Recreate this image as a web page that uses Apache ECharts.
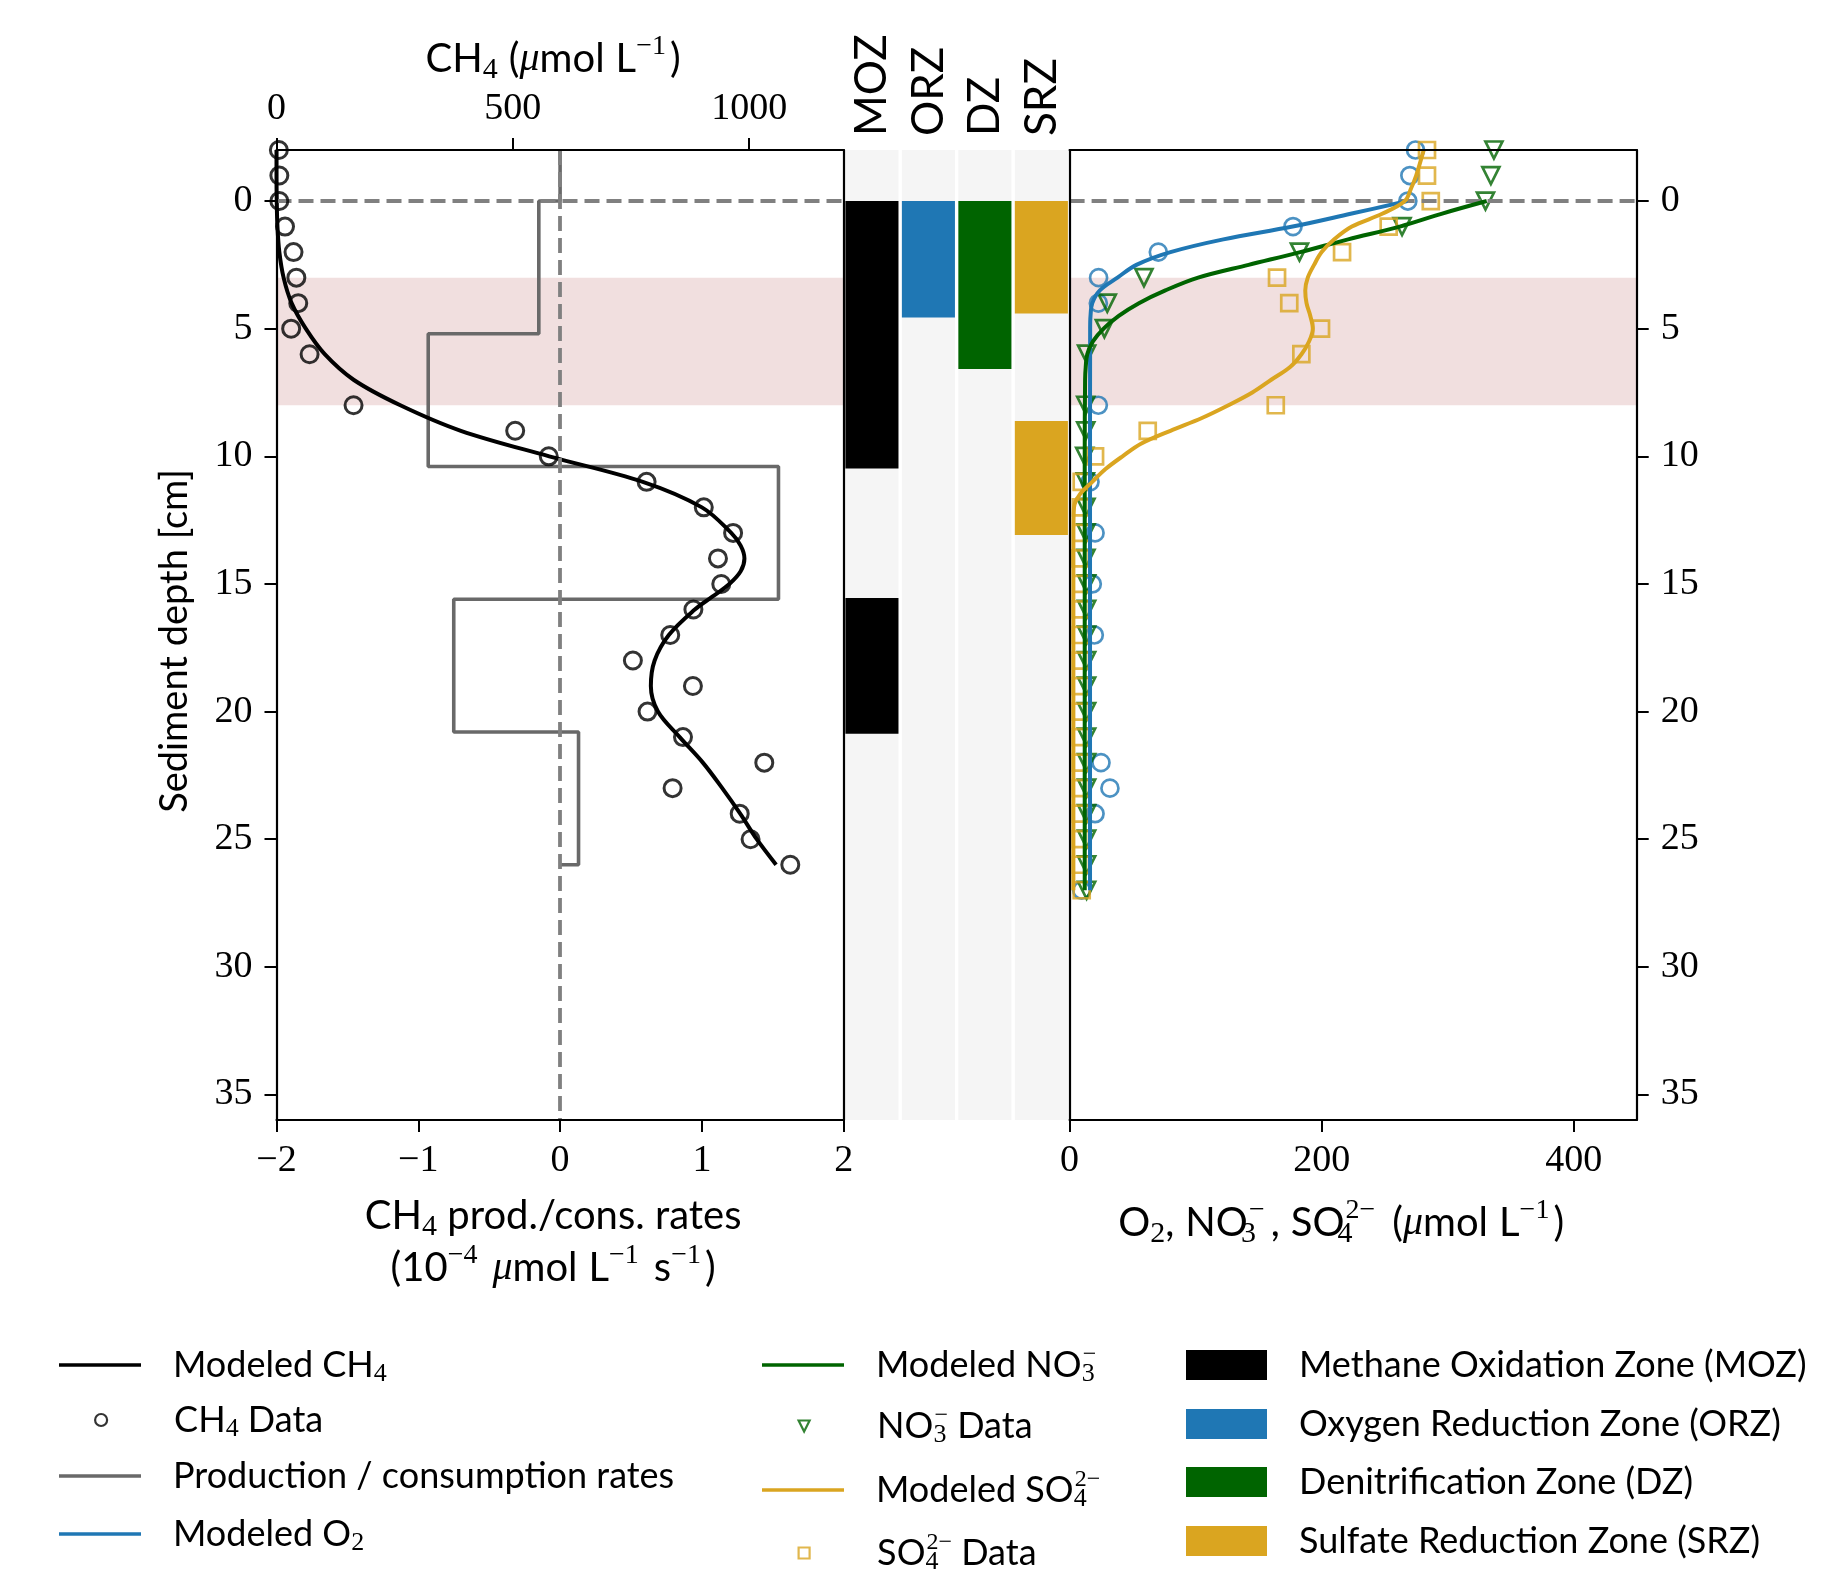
<!DOCTYPE html>
<html>
<head>
<meta charset="utf-8">
<script src="https://cdn.jsdelivr.net/npm/echarts@6/dist/echarts.min.js"></script>
<style>html,body{margin:0;padding:0;background:#fff}#c{width:1845px;height:1576px}</style>
</head>
<body>
<div id="c"></div>
<script>
// ---------------- DATA ----------------
// CH4 measured data (depth cm, umol/L)
const ch4DataDepth = [-2,-1,0,1,2,3,4,5,6,8,9,10,11,12,13,14,15,16,17,18,19,20,21,22,23,24,25,26];
const ch4DataValue = [5,6,6,18,36,42,46,31,70,163,505,576,783,904,966,934,941,882,833,754,881,785,860,1032,838,980,1003,1087];
// CH4 modeled profile
const ch4ModelDepth = [-2,-1,0,1,2,3,4,5,6,7,8,9,10,11,12,13,13.5,14,14.5,15,15.5,16,17,18,19,20,21,22,23,24,25,26];
const ch4ModelValue = [0,0,0.5,2,6,15,32,62,102,163,262,390,577,775,900,962,982,990,982,958,922,885,830,800,792,807,853,902,943,981,1016,1057];
// CH4 production / consumption rates (step profile)
const rateTopDepth = -2;
const rateDepthEdges = [0, 5.2, 10.4, 15.6, 20.8, 26];
const rateValues = [-0.15, -0.93, 1.54, -0.75, 0.13];
// Zones (depth intervals)
const zoneNames = ['MOZ', 'ORZ', 'DZ', 'SRZ'];
const mozIntervals = [[0, 10.48], [15.55, 20.87]];
const orzIntervals = [[0, 4.56]];
const dzIntervals = [[0, 6.58]];
const srzIntervals = [[0, 4.41], [8.62, 13.08]];
// Highlighted band
const bandDepth = [3, 8];
// O2 data / model
const o2DataDepth = [-2,-1,0,1,2,3,4,8,11,13,15,17,22,23,24,27];
const o2DataValue = [274.5,270,268.4,177.3,70.4,23,22.8,22.8,16.2,20.2,18,19.6,24.9,32,20.2,9.6];
const o2ModelDepth = [0,0.5,1,1.5,2,2.5,3,3.5,4,4.5,5,10,15,20,27];
const o2ModelValue = [268,223,177,122,80,53,38,24,18,16.6,16.3,16.2,16.2,16.2,16.2];
// NO3 data / model
const no3DataDepth = [-2,-1,0,1,2,3,4,5,6,8,9,10,11,12,13,14,15,16,17,18,19,20,21,22,23,24,25,26,27];
const no3DataValue = [336.7,334.3,330,263.8,182.4,59,29.9,27.6,13.5,12.8,12.8,12,12.5,13,13,13,13.5,13.5,13.5,13.5,13.5,13.5,13.5,13.5,13.5,13.5,13.5,13.5,13.5];
const no3ModelDepth = [0,0.5,1,1.5,2,2.5,3,3.5,4,4.5,5,5.5,6,6.5,7,10,15,20,27];
const no3ModelValue = [331,295,262,221,183,142,102,76,55,39,27,18.5,14,12.8,12.3,12,12,12,12];
// SO4 data / model
const so4DataDepth = [-2,-1,0,1,2,3,4,5,6,8,9,10,11,12,13,14,15,16,17,18,19,20,21,22,23,24,25,26,27];
const so4DataValue = [283.6,283.6,286.6,253.2,216.2,164.6,174.3,199.5,183.9,163.6,62,20.2,9.6,9,9.4,8.8,9.4,9,9,9,9,9,9,9,9,9,9,9,9.6];
const so4ModelDepth = [-2,-1,-0.5,0,0.5,1,1.5,2,2.5,3,3.5,4,4.5,5,5.5,6,6.5,7,7.5,8,8.5,9,9.5,10,10.5,11,11.5,12,13,15,20,27];
const so4ModelValue = [281,275,271,266,248,224,210,200,194,189,187,188,191,193,190,184,175,160,145,126,105,80,57,42,28.5,18,8,3.5,3,3,3,3];
// Tick values
const depthTicks = [0,5,10,15,20,25,30,35];
const rateTicks = [-2,-1,0,1,2];
const ch4Ticks = [0,500,1000];
const concTicks = [0,200,400];

// ---------------- STYLE ----------------
const SANS = 'Lato, "DejaVu Sans", sans-serif';
const SERIF = '"Liberation Serif", "DejaVu Serif", serif';
const C_O2 = '#1f77b4', C_NO3 = '#006400', C_SO4 = '#daa520', C_STEP = '#696969', C_DASH = '#808080';

function richSet(fs, lh, scr, supPad) {
  const sfs = Math.round(fs * scr), pfs = Math.round(fs * (scr - 0.04));
  return {
    n: {fontFamily: SANS, fontSize: fs, lineHeight: lh, color: '#000'},
    s: {fontFamily: SANS, fontSize: fs, lineHeight: lh, width: Math.round(fs * 0.28), color: '#000'},
    mu: {fontFamily: SERIF, fontStyle: 'italic', fontSize: fs, lineHeight: lh, color: '#000'},
    sub: {fontFamily: SERIF, fontSize: sfs, lineHeight: sfs, verticalAlign: 'bottom', color: '#000'},
    subz: {fontFamily: SERIF, fontSize: sfs, lineHeight: sfs, verticalAlign: 'bottom', width: 1, color: '#000'},
    sup: {fontFamily: SERIF, fontSize: pfs, lineHeight: pfs, verticalAlign: 'top', padding: [0, supPad, 0, 0], color: '#000'},
    supw: {fontFamily: SERIF, fontSize: pfs, lineHeight: pfs, verticalAlign: 'top', padding: [0, 6, 0, 0], color: '#000'},
    sp: {width: 27, lineHeight: lh}
  };
}
const richAxis = richSet(40, 52, 0.74, 4);
const richLegend = richSet(36, 44, 0.72, 0);

const zeroPairs = (vals, deps) => vals.map((v, i) => [v, deps[i]]);
const minusFmt = v => (v < 0 ? '\u2212' + (-v) : String(v));
const plainFmt = v => String(v);

// step profile points built from the rate arrays
const ratePts = [[0, rateTopDepth], [0, rateDepthEdges[0]]];
rateValues.forEach((v, i) => { ratePts.push([v, rateDepthEdges[i]]); ratePts.push([v, rateDepthEdges[i + 1]]); });
ratePts.push([0, rateDepthEdges[rateDepthEdges.length - 1]]);

const axisLineS = {show: true, onZero: false, lineStyle: {color: '#000', width: 2.2}};
const tickS = vals => ({show: true, length: 12, customValues: vals, lineStyle: {color: '#000', width: 2}});
const labS = (vals, extra) => Object.assign({show: true, customValues: vals, fontFamily: SERIF, fontSize: 38, color: '#000', margin: 20, formatter: plainFmt}, extra || {});
const noSplit = {show: false};

function zoneRender(params, api) {
  const cat = api.value(0);
  const p0 = api.coord([cat, api.value(1)]);
  const p1 = api.coord([cat, api.value(2)]);
  const bw = api.size([1, 0])[0];
  const w = bw - 3.4;
  return {type: 'rect', shape: {x: p0[0] - w / 2, y: p0[1], width: w, height: p1[1] - p0[1]}, style: {fill: api.visual('color')}};
}
const zoneSeries = (name, cat, intervals, color) => ({
  type: 'custom', name, xAxisIndex: 2, yAxisIndex: 2, z: 3,
  itemStyle: {color}, renderItem: zoneRender, encode: {x: 0, y: [1, 2]},
  data: intervals.map(iv => [cat, iv[0], iv[1]])
});

const PATH_CIRCLE = 'path://M0,5A5,5 0 1,1 10,5A5,5 0 1,1 0,5Z';
const PATH_TRI = 'path://M0,0L10,0L5,10Z';
const PATH_SQ = 'path://M0,0L10,0L10,10L0,10Z';

const legendLabels = {
  'Modeled CH4': '{sp| }{n|Modeled CH}{sub|4}',
  'CH4 Data': '{sp| }{n|CH}{sub|4}{n| Data}',
  'Production / consumption rates': '{sp| }{n|Production / consumption rates}',
  'Modeled O2': '{sp| }{n|Modeled O}{sub|2}',
  'O2 Data': '{sp| }{n|O}{sub|2}{n| Data}',
  'Modeled NO3': '{sp| }{n|Modeled NO}{subz|3}{sup|\u2212}',
  'NO3 Data': '{sp| }{n|NO}{subz|3}{sup|\u2212}{n| Data}',
  'Modeled SO4': '{sp| }{n|Modeled SO}{subz|4}{sup|2\u2212}',
  'SO4 Data': '{sp| }{n|SO}{subz|4}{sup|2\u2212}{n| Data}',
  'Methane Oxidation Zone (MOZ)': '{sp| }{n|Methane Oxidation Zone (MOZ)}',
  'Oxygen Reduction Zone (ORZ)': '{sp| }{n|Oxygen Reduction Zone (ORZ)}',
  'Denitrification Zone (DZ)': '{sp| }{n|Denitrification Zone (DZ)}',
  'Sulfate Reduction Zone (SRZ)': '{sp| }{n|Sulfate Reduction Zone (SRZ)}'
};
function mkLegend(name, left, centerY, icon, iw, ih, itemStyle) {
  // square-aspect path icons only occupy ih x ih in the middle of the item box
  const shift = icon.indexOf('path://') === 0 ? (iw - ih) / 2 : 0;
  return {
    show: true, selectedMode: false, orient: 'horizontal', left: left + shift, top: centerY - 22, padding: 0,
    itemWidth: iw, itemHeight: ih, itemGap: 0, symbolKeepAspect: true,
    data: [{name, icon, itemStyle}],
    formatter: () => legendLabels[name],
    textStyle: {color: '#000', rich: richLegend}
  };
}
const lineIcon = c => ({color: c, borderWidth: 0});
const markIcon = c => ({color: 'rgba(0,0,0,0)', borderColor: c, borderWidth: 2.2});

const legends = [
  mkLegend('Modeled CH4', 59, 1369, 'rect', 82, 3.5, lineIcon('#000')),
  mkLegend('CH4 Data', 59, 1424, PATH_CIRCLE, 82, 12, markIcon('#000')),
  mkLegend('Production / consumption rates', 59, 1480, 'rect', 82, 3.5, lineIcon(C_STEP)),
  mkLegend('Modeled O2', 59, 1538, 'rect', 82, 3.5, lineIcon(C_O2)),
  mkLegend('O2 Data', 59, 1595, PATH_CIRCLE, 82, 12, markIcon(C_O2)),
  mkLegend('Modeled NO3', 762, 1365, 'rect', 82, 3.5, lineIcon(C_NO3)),
  mkLegend('NO3 Data', 762, 1426, PATH_TRI, 82, 11, markIcon(C_NO3)),
  mkLegend('Modeled SO4', 762, 1490, 'rect', 82, 3.5, lineIcon(C_SO4)),
  mkLegend('SO4 Data', 762, 1553, PATH_SQ, 82, 11, markIcon(C_SO4)),
  mkLegend('Methane Oxidation Zone (MOZ)', 1186, 1369, 'rect', 81, 30, {color: '#000'}),
  mkLegend('Oxygen Reduction Zone (ORZ)', 1186, 1428, 'rect', 81, 30, {color: C_O2}),
  mkLegend('Denitrification Zone (DZ)', 1186, 1486, 'rect', 81, 30, {color: C_NO3}),
  mkLegend('Sulfate Reduction Zone (SRZ)', 1186, 1545, 'rect', 81, 30, {color: C_SO4})
];

const bandArea = {silent: true, itemStyle: {color: '#f1dfdf'}, data: [[{yAxis: bandDepth[0]}, {yAxis: bandDepth[1]}]]};
const dashStyle = {color: C_DASH, width: 3.8, type: [15, 7]};

const option = {
  animation: false,
  backgroundColor: '#fff',
  grid: [
    {left: 276.5, top: 150, width: 567.2, height: 970, outerBoundsMode: 'none'},
    {left: 843.7, top: 150, width: 225.9, height: 970, outerBoundsMode: 'none'},
    {left: 1069.6, top: 150, width: 567.1, height: 970, outerBoundsMode: 'none'}
  ],
  legend: legends,
  xAxis: [
    {gridIndex: 0, type: 'value', position: 'bottom', min: -2, max: 2, interval: 1, z: 10,
     axisLine: axisLineS, axisTick: tickS(rateTicks), axisLabel: labS(rateTicks, {formatter: minusFmt, margin: 22}), splitLine: noSplit,
     name: '{n|CH}{sub|4}{n| prod./cons. rates}\n{n|(10}{sup|\u22124}{s| }{mu|\u03bc}{n|mol}{s| }{n|L}{sup|\u22121}{s| }{n|s}{sup|\u22121}{n|)}',
     nameLocation: 'middle', nameGap: 70, nameTextStyle: {rich: richAxis, color: '#000', padding: [0, 14, 0, 0]}},
    {gridIndex: 0, type: 'value', position: 'top', min: 0, max: 1200, z: 10,
     axisLine: axisLineS, axisTick: tickS(ch4Ticks), axisLabel: labS(ch4Ticks, {margin: 22}), splitLine: noSplit,
     name: '{n|CH}{sub|4}{s| }{n|(}{mu|\u03bc}{n|mol}{s| }{n|L}{sup|\u22121}{n|)}',
     nameLocation: 'middle', nameGap: 64, nameTextStyle: {rich: richAxis, color: '#000', padding: [0, 14, 0, 0]}},
    {gridIndex: 1, type: 'category', position: 'top', data: zoneNames, z: 10,
     axisLine: {show: false}, axisTick: {show: false}, splitLine: noSplit,
     axisLabel: {show: true, interval: 0, rotate: 90, fontFamily: SANS, fontSize: 44, color: '#000', margin: 14}},
    {gridIndex: 2, type: 'value', position: 'bottom', min: 0, max: 450, z: 10,
     axisLine: axisLineS, axisTick: tickS(concTicks), axisLabel: labS(concTicks, {margin: 22}), splitLine: noSplit,
     name: '{n|O}{sub|2}{n|,}{s| }{n|NO}{subz|3}{supw|\u2212}{n|,}{s| }{n|SO}{subz|4}{supw|2\u2212}{s| }{n|(}{mu|\u03bc}{n|mol}{s| }{n|L}{sup|\u22121}{n|)}',
     nameLocation: 'middle', nameGap: 77, nameTextStyle: {rich: richAxis, color: '#000', padding: [0, 24, 0, 0]}},
    {gridIndex: 2, type: 'value', position: 'top', min: 0, max: 450, z: 10,
     axisLine: axisLineS, axisTick: {show: false}, axisLabel: {show: false}, splitLine: noSplit}
  ],
  yAxis: [
    {gridIndex: 0, type: 'value', position: 'left', inverse: true, min: -2, max: 36, z: 10,
     axisLine: axisLineS, axisTick: tickS(depthTicks), axisLabel: labS(depthTicks, {margin: 24}), splitLine: noSplit,
     name: '{n|Sediment depth [cm]}', nameLocation: 'middle', nameRotate: 90, nameGap: 80,
     nameTextStyle: {rich: richSet(38, 44, 0.72, 0), color: '#000', padding: [0, 12, 0, 0]}},
    {gridIndex: 0, type: 'value', position: 'right', inverse: true, min: -2, max: 36, z: 10,
     axisLine: axisLineS, axisTick: {show: false}, axisLabel: {show: false}, splitLine: noSplit},
    {gridIndex: 1, type: 'value', inverse: true, min: -2, max: 36, show: false, splitLine: noSplit},
    {gridIndex: 2, type: 'value', position: 'right', inverse: true, min: -2, max: 36, z: 10,
     axisLine: axisLineS, axisTick: tickS(depthTicks), axisLabel: labS(depthTicks, {margin: 24}), splitLine: noSplit},
    {gridIndex: 2, type: 'value', position: 'left', inverse: true, min: -2, max: 36, z: 10,
     axisLine: axisLineS, axisTick: {show: false}, axisLabel: {show: false}, splitLine: noSplit}
  ],
  series: [
    // left panel
    {type: 'line', name: 'band-left', xAxisIndex: 0, yAxisIndex: 0, data: [], z: 1, silent: true, markArea: bandArea},
    {type: 'line', name: 'Production / consumption rates', xAxisIndex: 0, yAxisIndex: 0, z: 2,
     data: ratePts, showSymbol: false, symbol: 'none', lineStyle: {color: C_STEP, width: 3.6}, itemStyle: {color: C_STEP}},
    {type: 'line', name: 'dash-left', xAxisIndex: 0, yAxisIndex: 0, data: [], z: 3, silent: true,
     markLine: {silent: true, symbol: 'none', label: {show: false}, lineStyle: dashStyle, data: [{xAxis: 0}, {yAxis: 0}]}},
    {type: 'line', name: 'Modeled CH4', xAxisIndex: 1, yAxisIndex: 0, z: 4, smooth: 0.35,
     data: zeroPairs(ch4ModelValue, ch4ModelDepth), showSymbol: false, symbol: 'none', lineStyle: {color: '#000', width: 4}, itemStyle: {color: '#000'}},
    {type: 'scatter', name: 'CH4 Data', xAxisIndex: 1, yAxisIndex: 0, z: 5,
     data: zeroPairs(ch4DataValue, ch4DataDepth), symbol: 'circle', symbolSize: 17,
     itemStyle: {color: 'rgba(0,0,0,0)', borderColor: '#000', borderWidth: 3}},
    // middle panel
    {type: 'custom', name: 'zone-bg', xAxisIndex: 2, yAxisIndex: 2, z: 2, silent: true,
     itemStyle: {color: '#f5f5f5'}, renderItem: zoneRender, encode: {x: 0, y: [1, 2]},
     data: zoneNames.map((n, i) => [i, -2, 36])},
    zoneSeries('Methane Oxidation Zone (MOZ)', 0, mozIntervals, '#000'),
    zoneSeries('Oxygen Reduction Zone (ORZ)', 1, orzIntervals, C_O2),
    zoneSeries('Denitrification Zone (DZ)', 2, dzIntervals, C_NO3),
    zoneSeries('Sulfate Reduction Zone (SRZ)', 3, srzIntervals, C_SO4),
    // right panel
    {type: 'line', name: 'band-right', xAxisIndex: 3, yAxisIndex: 3, data: [], z: 1, silent: true, markArea: bandArea},
    {type: 'line', name: 'dash-right', xAxisIndex: 3, yAxisIndex: 3, data: [], z: 3, silent: true,
     markLine: {silent: true, symbol: 'none', label: {show: false}, lineStyle: dashStyle, data: [{yAxis: 0}]}},
    {type: 'scatter', name: 'O2 Data', xAxisIndex: 3, yAxisIndex: 3, z: 4,
     data: zeroPairs(o2DataValue, o2DataDepth), symbol: 'circle', symbolSize: 17,
     itemStyle: {color: 'rgba(0,0,0,0)', borderColor: C_O2, borderWidth: 2.7}},
    {type: 'scatter', name: 'NO3 Data', xAxisIndex: 3, yAxisIndex: 3, z: 4,
     data: zeroPairs(no3DataValue, no3DataDepth), symbol: PATH_TRI, symbolSize: [17, 17],
     itemStyle: {color: 'rgba(0,0,0,0)', borderColor: C_NO3, borderWidth: 2.7}},
    {type: 'scatter', name: 'SO4 Data', xAxisIndex: 3, yAxisIndex: 3, z: 4,
     data: zeroPairs(so4DataValue, so4DataDepth), symbol: PATH_SQ, symbolSize: [16, 16],
     itemStyle: {color: 'rgba(0,0,0,0)', borderColor: C_SO4, borderWidth: 2.7}},
    {type: 'line', name: 'Modeled O2', xAxisIndex: 3, yAxisIndex: 3, z: 5, smooth: 0.35,
     data: zeroPairs(o2ModelValue, o2ModelDepth), showSymbol: false, symbol: 'none', lineStyle: {color: C_O2, width: 4}, itemStyle: {color: C_O2}},
    {type: 'line', name: 'Modeled NO3', xAxisIndex: 3, yAxisIndex: 3, z: 5, smooth: 0.35,
     data: zeroPairs(no3ModelValue, no3ModelDepth), showSymbol: false, symbol: 'none', lineStyle: {color: C_NO3, width: 4}, itemStyle: {color: C_NO3}},
    {type: 'line', name: 'Modeled SO4', xAxisIndex: 3, yAxisIndex: 3, z: 5, smooth: 0.35,
     data: zeroPairs(so4ModelValue, so4ModelDepth), showSymbol: false, symbol: 'none', lineStyle: {color: C_SO4, width: 4}, itemStyle: {color: C_SO4}}
  ]
};

const chart = echarts.init(document.getElementById('c'), null, {renderer: 'canvas', width: 1845, height: 1576});
chart.setOption(option);
</script>
</body>
</html>
